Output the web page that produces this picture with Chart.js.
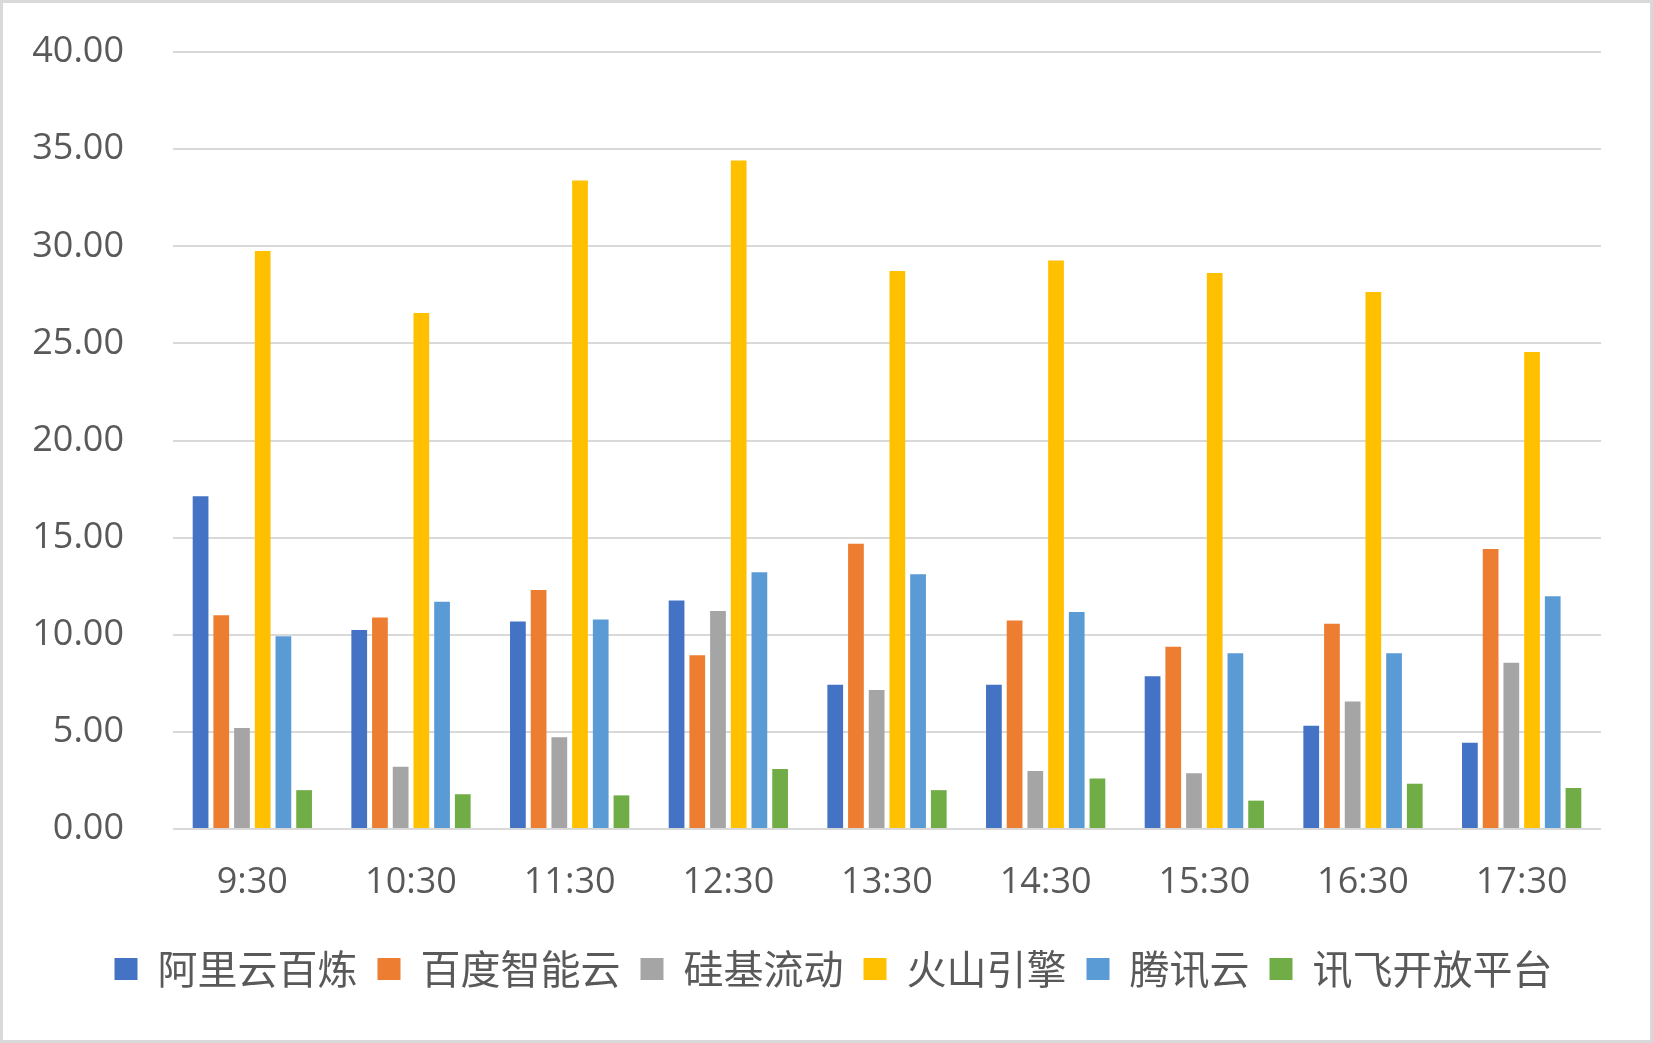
<!DOCTYPE html>
<html>
<head>
<meta charset="utf-8">
<script src="https://cdn.jsdelivr.net/npm/chart.js@4"></script>
<style>
  body { margin: 0; background: #fff; }
  canvas { display: block; }
</style>
</head>
<body>
<canvas id="myBarChart" width="1653" height="1043"></canvas>
<script>
const times = ['9:30', '10:30', '11:30', '12:30', '13:30', '14:30', '15:30', '16:30', '17:30'];

// giá trị
const aliyun = [17.13, 10.24, 10.68, 11.76, 7.43, 7.43, 7.86, 5.31, 4.44];
const baidu = [11.00, 10.89, 12.30, 8.94, 14.69, 10.73, 9.38, 10.57, 14.42];
const siliconflow = [5.20, 3.20, 4.72, 11.22, 7.15, 2.98, 2.87, 6.56, 8.56];
const volcano = [29.76, 26.56, 33.39, 34.42, 28.73, 29.27, 28.62, 27.64, 24.55];
const tencent = [9.92, 11.70, 10.79, 13.22, 13.12, 11.17, 9.05, 9.05, 11.98];
const xunfei = [2.00, 1.79, 1.73, 3.09, 2.00, 2.60, 1.46, 2.33, 2.11];

const seriesNames = ['阿里云百炼', '百度智能云', '硅基流动', '火山引擎', '腾讯云', '讯飞开放平台'];
const seriesColors = ['#4472C4', '#ED7D31', '#A5A5A5', '#FFC000', '#5B9BD5', '#70AD47'];
const seriesValues = [aliyun, baidu, siliconflow, volcano, tencent, xunfei];

const data1 = {
    labels: times,
    datasets: seriesNames.map((name, i) => ({
        label: name,
        data: seriesValues[i],
        backgroundColor: seriesColors[i],
        categoryPercentage: 0.783,
        barPercentage: 0.76,
    })),
};

// viền xám quanh khung + dời chú thích sang phải một chút
const framePlugin = {
    id: 'frame',
    afterLayout(chart) {
        chart.legend.left += 33;
        chart.legend.right += 33;
    },
    afterDraw(chart) {
        const c = chart.ctx;
        c.save();
        c.strokeStyle = '#d9d9d9';
        c.lineWidth = 3;
        c.strokeRect(1.5, 1.5, chart.width - 3, chart.height - 3);
        c.restore();
    },
};

const config = {
    type: 'bar',
    data: data1,
    plugins: [framePlugin],
    options: {
        responsive: false,
        animation: false,
        layout: {
            padding: { top: 52, right: 52, bottom: 44, left: 0 },
        },
        plugins: {
            legend: {
                position: 'bottom',
                labels: {
                    color: '#595959',
                    font: { family: '"Noto Sans CJK SC", sans-serif', size: 40 },
                    boxWidth: 23,
                    boxHeight: 22,
                    padding: 20,
                },
            },
            tooltip: { enabled: false },
        },
        scales: {
            x: {
                grid: { display: false },
                border: { display: false },
                ticks: {
                    color: '#595959',
                    font: { family: '"Open Sans", sans-serif', size: 36 },
                    padding: 24,
                },
                afterFit(scale) { scale.height = 100; },
            },
            y: {
                min: 0,
                max: 40,
                border: { display: false },
                grid: { color: '#d9d9d9', lineWidth: 2, drawTicks: false },
                ticks: {
                    stepSize: 5,
                    color: '#595959',
                    font: { family: '"Open Sans", sans-serif', size: 36 },
                    padding: 49,
                    callback: (v) => v.toFixed(2),
                },
                afterFit(scale) {
                    scale.width = 173;
                    scale.paddingTop = 21;
                    scale.paddingBottom = 21;
                },
            },
        },
    },
};

var ctx = document.getElementById('myBarChart').getContext('2d');
var myBarChart = new Chart(ctx, config);
</script>
</body>
</html>
